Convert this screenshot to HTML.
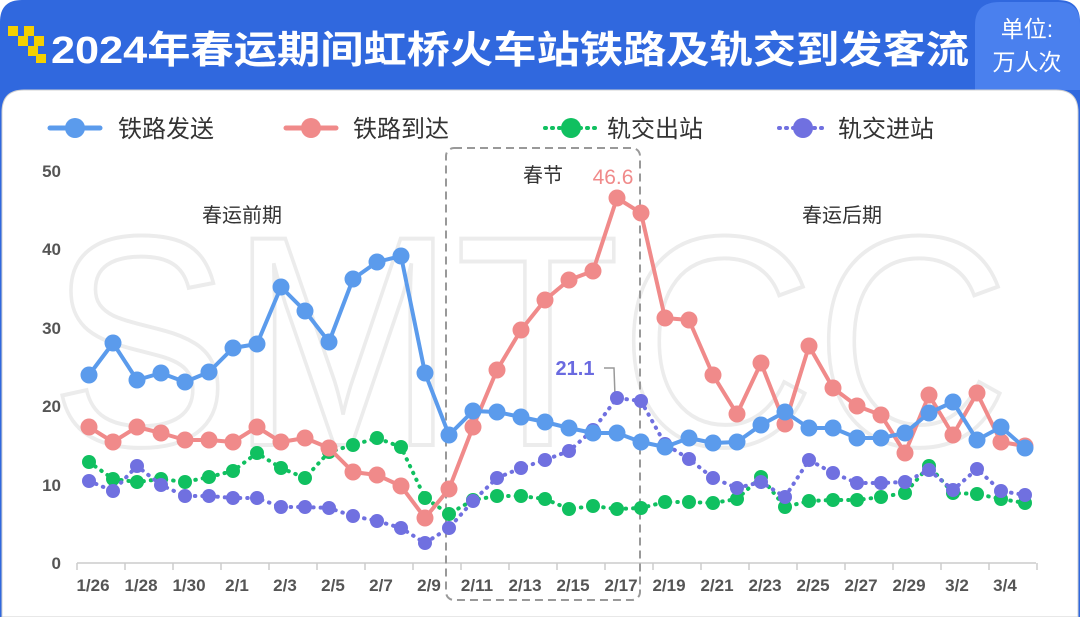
<!DOCTYPE html>
<html><head><meta charset="utf-8"><style>
html,body{margin:0;padding:0;background:#fff;}
body{width:1080px;height:617px;overflow:hidden;font-family:"Liberation Sans","Noto Sans CJK SC",sans-serif;}
</style></head><body>
<svg width="1080" height="617" viewBox="0 0 1080 617" xmlns="http://www.w3.org/2000/svg" font-family="Liberation Sans, Noto Sans CJK SC, sans-serif">
<rect x="0" y="0" width="1080" height="617" fill="#fff"/>
<path d="M0,617 L0,22 Q0,0 22,0 L1058,0 Q1080,0 1080,22 L1080,617 Z" fill="#3068de"/>
<path d="M975,90 L975,25 Q975,2 1000,2 L1058,2 Q1080,2 1080,24 L1080,90 Z" fill="#4a80ee"/>
<text x="1027" y="37" font-size="23" fill="#fff" text-anchor="middle">单位:</text>
<text x="1027" y="70" font-size="23" fill="#fff" text-anchor="middle">万人次</text>
<g fill="#f5d000">
<rect x="8" y="26" width="10" height="10"/><rect x="24" y="26" width="10" height="10"/>
<rect x="18" y="36" width="10" height="10"/><rect x="34" y="36" width="10" height="10"/>
<rect x="28" y="46" width="10" height="10"/><rect x="36" y="54" width="10" height="9"/>
</g>
<text x="51" y="63" font-size="38" font-weight="bold" fill="#fff" textLength="918" lengthAdjust="spacingAndGlyphs">2024年春运期间虹桥火车站铁路及轨交到发客流</text>
<path d="M2,617 L2,112 Q2,90 24,90 L1056,90 Q1078,90 1078,112 L1078,617 Z" fill="#fff" stroke="#d0d0d0" stroke-width="1"/>
<text x="530" y="445" font-size="300" fill="none" stroke="#ececec" stroke-width="4" text-anchor="middle" textLength="960" lengthAdjust="spacingAndGlyphs">SMTCC</text>
<g font-size="24" fill="#333">
<line x1="50" y1="128" x2="100" y2="128" stroke="#5b9bec" stroke-width="5" stroke-linecap="round"/><circle cx="75" cy="128" r="10" fill="#5b9bec"/>
<text x="118" y="137">铁路发送</text>
<line x1="286" y1="128" x2="336" y2="128" stroke="#f08a8a" stroke-width="5" stroke-linecap="round"/><circle cx="311" cy="128" r="10" fill="#f08a8a"/>
<text x="353" y="137">铁路到达</text>
<line x1="545" y1="128" x2="597" y2="128" stroke="#10c060" stroke-width="4" stroke-dasharray="1 6" stroke-linecap="round"/><circle cx="571" cy="128" r="10" fill="#10c060"/>
<text x="607" y="137">轨交出站</text>
<line x1="779" y1="128" x2="827" y2="128" stroke="#7070e0" stroke-width="4" stroke-dasharray="1 6" stroke-linecap="round"/><circle cx="803" cy="128" r="10" fill="#7070e0"/>
<text x="838" y="137">轨交进站</text>
</g>
<g font-size="17" fill="#555" text-anchor="end" font-weight="bold">
<text x="61" y="177">50</text><text x="61" y="255">40</text><text x="61" y="334">30</text><text x="61" y="412">20</text><text x="61" y="491">10</text><text x="61" y="569">0</text>
</g>
<line x1="77" y1="563" x2="1036" y2="563" stroke="#ccc" stroke-width="1.5"/>
<g stroke="#ccc" stroke-width="1.5" id="ticks"></g>
<g font-size="17" fill="#555" text-anchor="middle" font-weight="bold" id="xl"></g>
<rect x="446" y="148" width="194" height="452" rx="8" fill="none" stroke="#999" stroke-width="2" stroke-dasharray="8 5"/>
<g font-size="20" fill="#333">
<text x="242" y="222" text-anchor="middle">春运前期</text>
<text x="543" y="182" text-anchor="middle">春节</text>
<text x="842" y="222" text-anchor="middle">春运后期</text>
</g>
<text x="613" y="184" font-size="21" fill="#f08a8a" text-anchor="middle">46.6</text>
<text x="575" y="375" font-size="20" font-weight="bold" fill="#6a6ae0" text-anchor="middle">21.1</text>
<polyline points="604,368 614,368 615,396" fill="none" stroke="#999" stroke-width="1.5"/>
<g id="series"></g>
</svg>
<script>
var NS="http://www.w3.org/2000/svg";
function el(t,a,p){var e=document.createElementNS(NS,t);for(var k in a)e.setAttribute(k,a[k]);p.appendChild(e);return e;}
var tk=document.getElementById("ticks"),xl=document.getElementById("xl"),sr=document.getElementById("series");
var labels=["1/26","1/28","1/30","2/1","2/3","2/5","2/7","2/9","2/11","2/13","2/15","2/17","2/19","2/21","2/23","2/25","2/27","2/29","3/2","3/4"];
for(var i=0;i<=20;i++){var x=77+48*i;el("line",{x1:x,y1:563,x2:x,y2:570},tk);}
for(var i=0;i<20;i++){var t=el("text",{x:89+48*i+4,y:591},xl);t.textContent=labels[i];}
var green=[462,479,482,479,482,477,471,453,468,478,452,445,438,447,498,514,500,496,496,499,509,506,509,508,502,502,503,499,477,507,501,500,500,497,493,466,493,494,499,503];
var purple=[481,491,466,485,496,496,498,498,507,507,508,516,521,528,543,528,501,478,468,460,451,430,398,401,444,459,478,488,482,497,460,473,483,483,482,470,490,469,491,495];
var red=[427,442,427,433,440,440,442,427,442,438,448,472,475,486,518,489,427,370,330,300,280,271,198,213,318,320,375,414,363,424,346,388,406,415,453,395,435,393,442,446];
var blue=[375,343,380,373,382,372,348,344,287,311,342,279,262,256,373,435,411,412,417,422,428,433,433,442,447,438,443,442,425,412,428,428,438,438,433,413,402,440,427,448];
function draw(d,c,dot,r){var pts=d.map(function(y,i){return (89+24*i)+","+y}).join(" ");
var a={points:pts,fill:"none",stroke:c,"stroke-width":4,"stroke-linejoin":"round","stroke-linecap":"round"};
if(dot)a["stroke-dasharray"]="0.5 7";el("polyline",a,sr);
d.forEach(function(y,i){el("circle",{cx:89+24*i,cy:y,r:r,fill:c},sr);});}
draw(green,"#10c060",true,7);draw(purple,"#7070e0",true,7);draw(red,"#f08a8a",false,8.5);draw(blue,"#5b9bec",false,8.5);
</script>
</body></html>
